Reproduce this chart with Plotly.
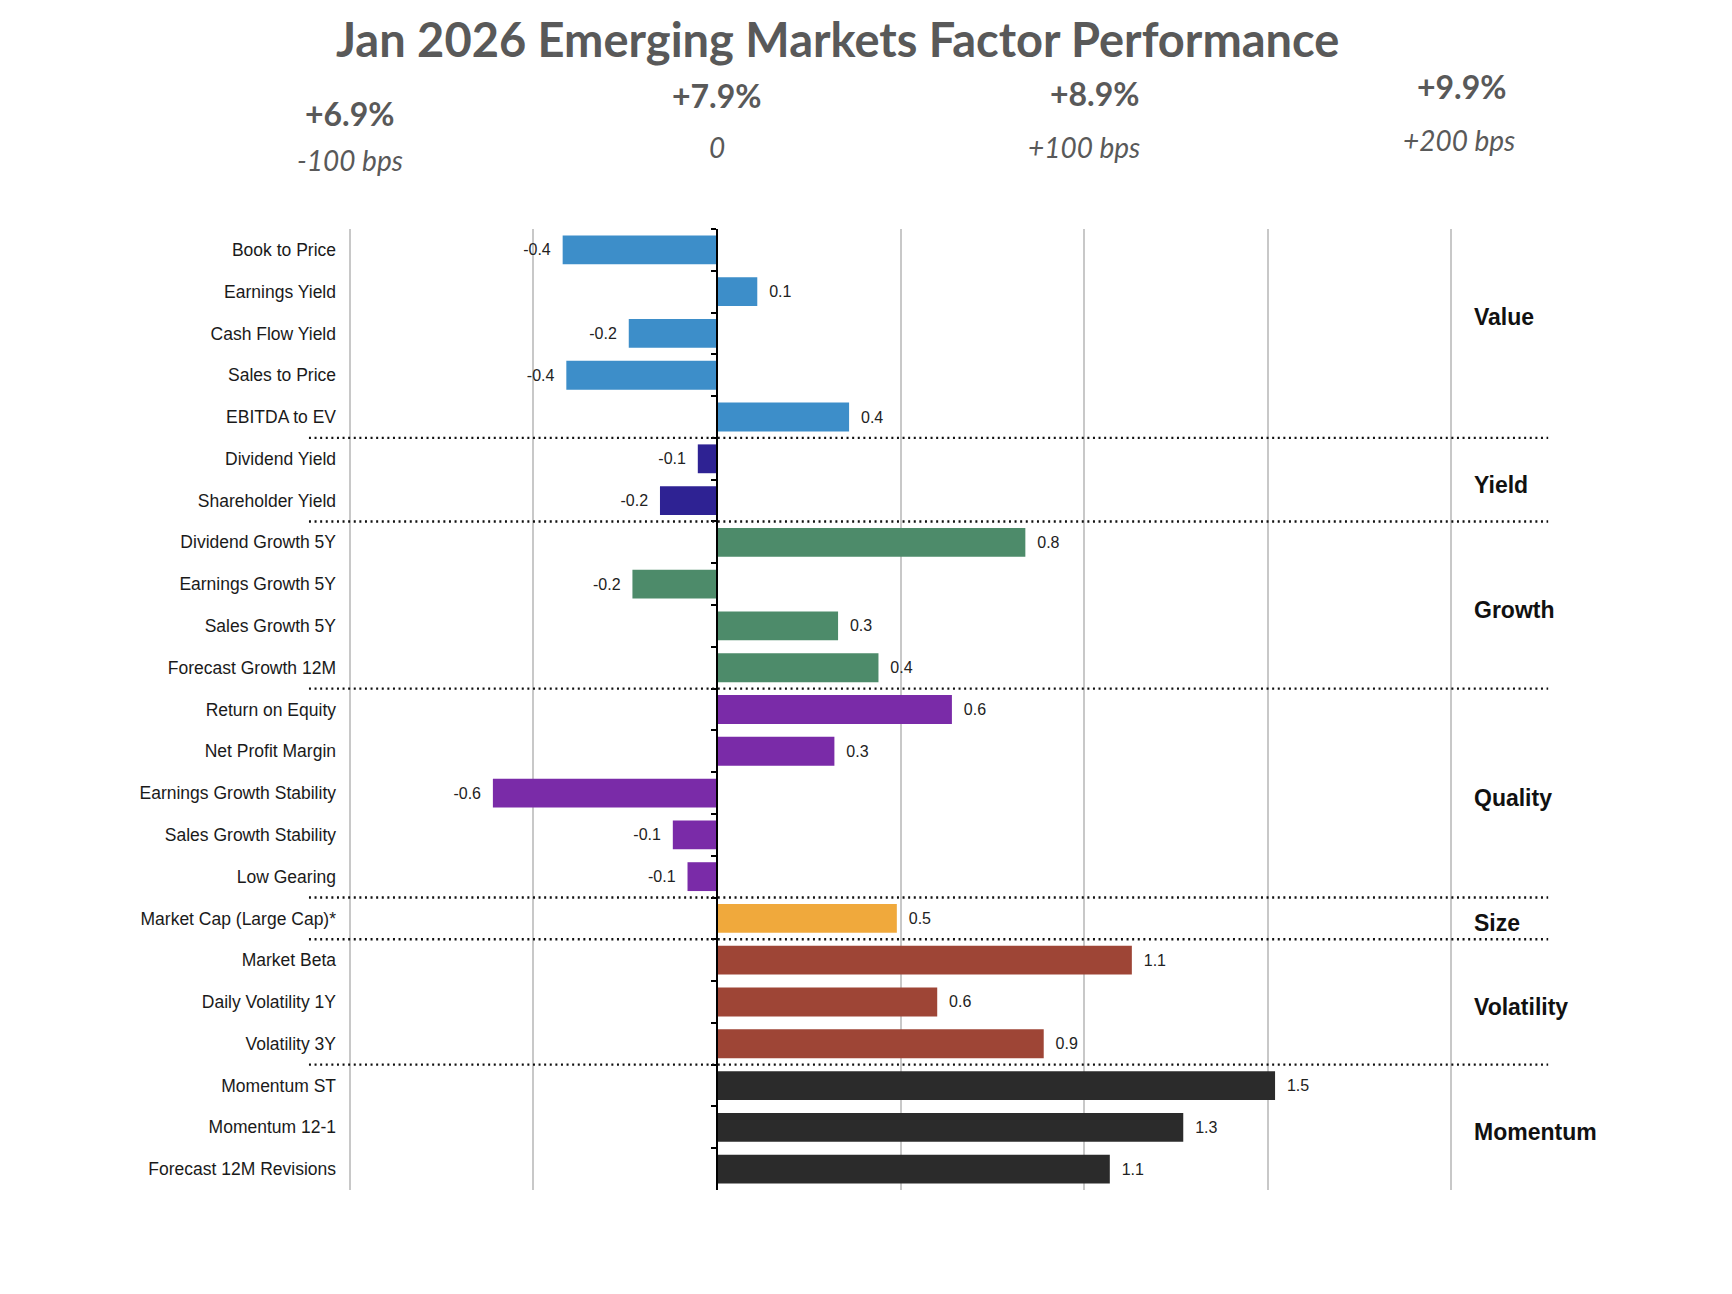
import plotly.graph_objects as go

# ---------------- data ----------------
factors = [
    "Book to Price", "Earnings Yield", "Cash Flow Yield", "Sales to Price", "EBITDA to EV",
    "Dividend Yield", "Shareholder Yield",
    "Dividend Growth 5Y", "Earnings Growth 5Y", "Sales Growth 5Y", "Forecast Growth 12M",
    "Return on Equity", "Net Profit Margin", "Earnings Growth Stability", "Sales Growth Stability", "Low Gearing",
    "Market Cap (Large Cap)*",
    "Market Beta", "Daily Volatility 1Y", "Volatility 3Y",
    "Momentum ST", "Momentum 12-1", "Forecast 12M Revisions",
]
values = [
    -0.42, 0.11, -0.24, -0.41, 0.36,
    -0.052, -0.155,
    0.84, -0.23, 0.33, 0.44,
    0.64, 0.32, -0.61, -0.12, -0.08,
    0.49,
    1.13, 0.60, 0.89,
    1.52, 1.27, 1.07,
]
groups = [
    "Value", "Value", "Value", "Value", "Value",
    "Yield", "Yield",
    "Growth", "Growth", "Growth", "Growth",
    "Quality", "Quality", "Quality", "Quality", "Quality",
    "Size",
    "Volatility", "Volatility", "Volatility",
    "Momentum", "Momentum", "Momentum",
]
group_names = ["Value", "Yield", "Growth", "Quality", "Size", "Volatility", "Momentum"]
group_colors = {
    "Value": "#3d8ec9", "Yield": "#2e2293", "Growth": "#4d8b6a", "Quality": "#7a2ba8",
    "Size": "#f0a93c", "Volatility": "#9e4536", "Momentum": "#2b2b2b",
}
header_x = [-1, 0, 1, 2]
header_returns = ["+6.9%", "+7.9%", "+8.9%", "+9.9%"]
header_bps = ["-100 bps", "0", "+100 bps", "+200 bps"]
title_text = "Jan 2026 Emerging Markets Factor Performance"

# ---------------- figure ----------------
W, H = 1732, 1294
L, R, T, B = 338, 285, 221, 112
XMIN, XMAX = -1.01, 2.01
n = len(factors)


def xpaper(v):
    return (v - XMIN) / (XMAX - XMIN)


NB = "\u00a0\u00a0"
bar_text = [(NB + f"{v:.1f}") if v >= 0 else (f"{v:.1f}" + NB) for v in values]

fig = go.Figure()
fig.add_trace(go.Bar(
    x=values, y=factors, orientation="h",
    marker=dict(color=[group_colors[g] for g in groups], line=dict(width=0)),
    text=bar_text, texttemplate="%{text}", textposition="outside",
    textfont=dict(family="Liberation Sans, Arial", size=16, color="#222222"),
    cliponaxis=False, hoverinfo="skip", showlegend=False,
))
# invisible trace on the zero-line axis (for boundary ticks)
fig.add_trace(go.Scatter(
    x=[0] * n, y=factors, yaxis="y2", mode="markers",
    marker=dict(opacity=0), hoverinfo="skip", showlegend=False,
))

fig.update_layout(
    width=W, height=H,
    margin=dict(l=L, r=R, t=T, b=B, pad=0),
    paper_bgcolor="white", plot_bgcolor="white",
    bargap=0.31,
    xaxis=dict(range=[XMIN, XMAX], dtick=0.5, tick0=0, showgrid=True, gridcolor="#c8c8c8",
               gridwidth=1.5, zeroline=False, showline=False, showticklabels=False,
               fixedrange=True),
    yaxis=dict(type="category", categoryorder="array", categoryarray=factors,
               range=[n - 0.5, -0.5], showgrid=False, zeroline=False, showline=False,
               ticks="", ticklabelstandoff=9,
               tickfont=dict(family="Liberation Sans, Arial", size=17.5, color="#1a1a1a")),
    yaxis2=dict(type="category", categoryorder="array", categoryarray=factors,
                range=[n - 0.5, -0.5], overlaying="y", anchor="free", position=xpaper(0),
                side="left", showline=True, linecolor="black", linewidth=1.5,
                ticks="outside", tickson="boundaries", ticklen=5, tickcolor="black",
                tickwidth=1.5, showticklabels=False, showgrid=False, zeroline=False),
    font=dict(family="Liberation Sans, Arial"),
)

# dotted separators between factor groups
for i in range(n - 1):
    if groups[i] != groups[i + 1]:
        fig.add_shape(type="line", xref="paper", yref="y", x0=-0.0334, x1=1.084,
                      y0=i + 0.5, y1=i + 0.5,
                      line=dict(color="#111111", width=2.4, dash="2px,3.6px"))

# group labels on the right
label_offset = {"Value": -0.4}
for g in group_names:
    idx = [i for i, gg in enumerate(groups) if gg == g]
    yc = sum(idx) / len(idx) + label_offset.get(g, 0.12)
    fig.add_annotation(text="<b>" + g + "</b>", xref="paper", yref="y", x=1.0153, y=yc,
                       xanchor="left", yanchor="middle", showarrow=False,
                       font=dict(family="Liberation Sans, Arial", size=23, color="#111111"))

# title
fig.add_annotation(text="<b>" + title_text + "</b>", xref="paper", yref="paper",
                   x=0.443, y=1.1977, xanchor="center", yanchor="middle", showarrow=False,
                   font=dict(family="Lato", size=47, color="#595959"))

# headers over the gridlines
ret_y = [1.1197, 1.1394, 1.1415, 1.1488]
ret_dx = [0, 0, 0.03, 0.03]
bps_y = [1.0718, 1.0853, 1.0853, 1.0926]
bps_dx = [0, 0, 0, 0.02]
for k in range(len(header_x)):
    fig.add_annotation(text="<b>" + header_returns[k] + "</b>", xref="paper", yref="paper",
                       x=xpaper(header_x[k] + ret_dx[k]), y=ret_y[k], xanchor="center",
                       yanchor="middle", showarrow=False,
                       font=dict(family="Lato", size=32, color="#595959"))
    fig.add_annotation(text="<i>" + header_bps[k] + "</i>", xref="paper", yref="paper",
                       x=xpaper(header_x[k] + bps_dx[k]), y=bps_y[k], xanchor="center",
                       yanchor="middle", showarrow=False,
                       font=dict(family="Lato", size=28, color="#595959"))

fig.write_html("out.html")
